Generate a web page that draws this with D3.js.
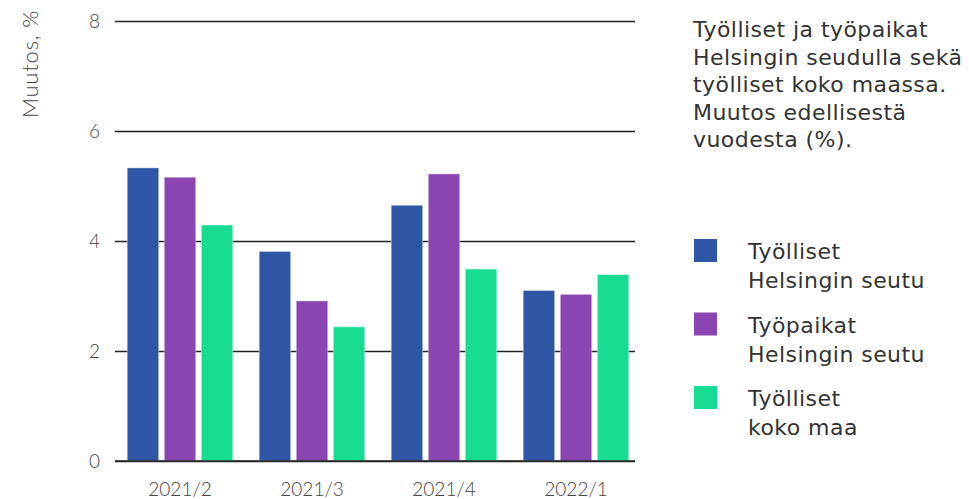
<!DOCTYPE html>
<meta charset="utf-8">
<title>Työlliset ja työpaikat</title>
<style>
body { margin: 0; background: white; }
svg { font-family: 'DejaVu Sans', sans-serif; }
.axis text { fill: #444; font-family: Lato, sans-serif; font-size: 19px; font-weight: 300; }
.axis line { stroke: #222; stroke-width: 1.3px; }
.axis path { display: none; }
.title, .legend text { fill: #333; font-size: 22px; letter-spacing: 0.45px; }
</style>
<body>
<script src="https://d3js.org/d3.v7.min.js"></script>
<script>

// data
const quarters = ["2021/2", "2021/3", "2021/4", "2022/1"];
const seriesNames = ["Työlliset\nHelsingin seutu", "Työpaikat\nHelsingin seutu", "Työlliset\nkoko maa"];
const tyollisetHelsinki = [5.33, 3.81, 4.65, 3.10];
const tyopaikatHelsinki = [5.16, 2.91, 5.22, 3.03];
const tyollisetKokoMaa = [4.29, 2.44, 3.49, 3.39];
const colors = ["#2e56a5", "#8a45b0", "#19dc93"];
const yTicks = [0, 2, 4, 6, 8];
const titleLines = ["Työlliset ja työpaikat", "Helsingin seudulla sekä", "työlliset koko maassa.", "Muutos edellisestä", "vuodesta (%)."];

const series = [tyollisetHelsinki, tyopaikatHelsinki, tyollisetKokoMaa];

const width = 969, height = 499;
const svg = d3.select("body").append("svg")
    .attr("width", width)
    .attr("height", height);

// scales
const x = d3.scaleBand()
    .domain(quarters)
    .range([114, 642])
    .paddingInner(0.2)
    .paddingOuter(0.1);

const xSub = d3.scaleBand()
    .domain(d3.range(series.length))
    .range([0, x.bandwidth()])
    .paddingInner(0.15);

const y = d3.scaleLinear()
    .domain([0, 8])
    .range([461, 21]);

// y axis with gridlines
svg.append("g")
    .attr("class", "axis")
    .attr("transform", "translate(115,0)")
    .call(d3.axisLeft(y).tickValues(yTicks).tickSize(-520).tickPadding(15).tickFormat(d3.format("d")))
    .selectAll("text")
    .attr("dy", "0.34em");

// x axis labels
svg.append("g")
    .attr("class", "axis")
    .attr("transform", "translate(0,461)")
    .call(d3.axisBottom(x).tickSize(0).tickPadding(22))
    .selectAll("text")
    .attr("dy", "0.71em");

// y axis title
svg.append("g")
    .attr("class", "axis")
    .append("text")
    .attr("transform", "translate(38,64) rotate(-90)")
    .attr("text-anchor", "middle")
    .style("font-size", "22px")
    .style("letter-spacing", "0.8px")
    .text("Muutos, %");

// bars
const groups = svg.append("g").selectAll("g")
    .data(quarters)
    .join("g")
    .attr("transform", d => "translate(" + x(d) + ",0)");

groups.selectAll("rect")
    .data((q, i) => series.map((s, j) => ({ j: j, v: s[i] })))
    .join("rect")
    .attr("x", d => xSub(d.j))
    .attr("width", xSub.bandwidth())
    .attr("y", d => y(d.v))
    .attr("height", d => y(0) - y(d.v))
    .attr("fill", d => colors[d.j])
    .attr("stroke", "rgba(255,255,255,0.4)")
    .attr("stroke-width", 1);

// redraw zero line on top
svg.append("line")
    .attr("x1", 115).attr("x2", 635)
    .attr("y1", y(0)).attr("y2", y(0))
    .attr("stroke", "#222")
    .attr("stroke-width", 1.3);

// title
svg.append("text")
    .attr("class", "title")
    .attr("x", 693)
    .attr("y", 37)
    .selectAll("tspan")
    .data(titleLines)
    .join("tspan")
    .attr("x", 693)
    .attr("dy", (d, i) => i === 0 ? 0 : 27.5)
    .text(d => d);

// legend
const legend = svg.append("g")
    .attr("class", "legend")
    .selectAll("g")
    .data(seriesNames)
    .join("g")
    .attr("transform", (d, i) => "translate(694," + (239 + i * 73.5) + ")");

legend.append("rect")
    .attr("width", 23)
    .attr("height", 23)
    .attr("fill", (d, i) => colors[i]);

legend.append("text")
    .attr("x", 54)
    .attr("y", 20)
    .selectAll("tspan")
    .data(d => d.split("\n"))
    .join("tspan")
    .attr("x", 54)
    .attr("dy", (d, i) => i === 0 ? 0 : 29)
    .text(d => d);

</script>
</body>
